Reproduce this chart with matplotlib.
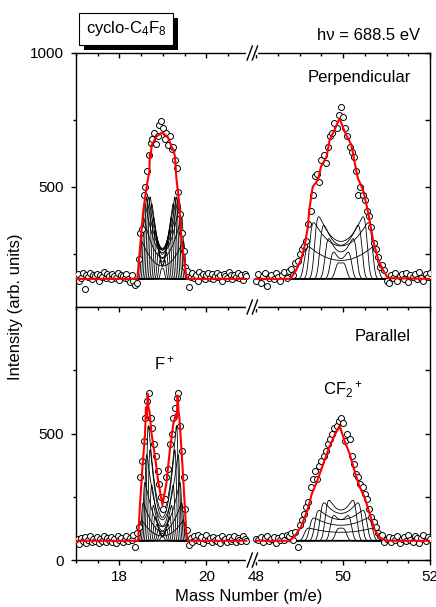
import numpy as np
import matplotlib.pyplot as plt
from matplotlib.lines import Line2D
from matplotlib.patches import Rectangle
from matplotlib.transforms import blended_transform_factory, IdentityTransform

plt.rcParams['font.family'] = ['Liberation Sans', 'DejaVu Sans']
plt.rcParams['mathtext.fontset'] = 'custom'
plt.rcParams['mathtext.rm'] = 'Liberation Sans'
plt.rcParams['mathtext.it'] = 'Liberation Sans:italic'
plt.rcParams['mathtext.bf'] = 'Liberation Sans:bold'

# channels of the two halves of the broken mass axis
mass_f = np.round(np.linspace(17.0, 20.92, 99), 2)
mass_cf2 = np.round(np.linspace(48.0, 52.0, 81), 2)

# measured counts (open circles)
perp_f_counts = [168, 175, 150, 162, 178, 120, 171, 165, 180, 158, 172, 166, 176, 149, 170, 163, 182, 160,
                 174, 167, 155, 176, 169, 161, 178, 152, 172, 166, 160, 175, 158, 147, 170, 150, 135, 140,
                 230, 330, 345, 470, 500, 560, 620, 665, 680, 700, 660, 690, 730, 745, 720, 680, 700, 655,
                 690, 640, 650, 600, 570, 480, 400, 330, 260, 200, 185, 128,
                 165, 178, 160, 172, 150, 183, 168, 175, 158, 170, 180, 162, 174, 155, 169, 178, 163, 172,
                 150, 177, 166, 160, 181, 170, 156, 173, 165, 179, 161, 170, 152, 176, 168]
perp_cf2_counts = [150, 175, 140, 168, 180, 130, 162, 172, 155, 178, 165, 148, 170, 182, 160,
                   185, 195, 170, 215, 225, 250, 270, 280, 300, 360, 410, 470, 540, 550, 520, 600, 620,
                   590, 650, 690, 700, 740, 720, 770, 800, 760, 720, 690, 650, 630, 610, 560, 470, 500,
                   470, 450, 410, 390, 350, 290, 270, 240, 200, 210, 190, 150,
                   140, 172, 160, 178, 150, 168, 175, 158, 180, 145, 170, 163, 176, 155, 182, 160, 148,
                   174, 165, 178]
par_f_counts = [70, 82, 65, 88, 74, 92, 68, 80, 95, 72, 85, 77, 90, 66, 83, 75, 94, 70, 86, 79, 91, 73,
                84, 68, 96, 78, 88, 71, 82, 93, 76, 87, 80, 98, 50, 105,
                130, 330, 390, 470, 560, 630, 660, 560, 520, 460, 410, 350, 300, 250, 200, 240, 330, 360,
                460, 500, 560, 600, 640, 660, 530, 430, 330, 200, 120, 60,
                88, 72, 95, 80, 100, 74, 90, 66, 84, 97, 78, 86, 70, 92, 81, 75, 89, 68, 94, 79, 85, 72,
                91, 77, 83, 96, 70, 87, 80, 74, 93, 82, 76]
par_cf2_counts = [85, 78, 92, 70, 88, 96, 74, 82, 90, 68, 86, 79, 94, 80, 100,
                  95, 105, 80, 110, 50, 140, 160, 180, 210, 230, 290, 320, 350, 320, 370, 390, 410, 430,
                  460, 480, 500, 520, 530, 550, 560, 540, 470, 500, 480, 410, 380, 340, 330, 300, 290,
                  260, 240, 200, 170, 150, 130, 105, 95, 100, 70, 85,
                  92, 70, 88, 79, 95, 66, 84, 90, 74, 98, 80, 72, 93, 86, 68, 88, 100, 77, 90, 82]

# fitted sums (red)
perp_f_fit_m = [17.00, 18.41, 18.47, 18.55, 18.64, 18.69, 18.70, 18.72, 18.74, 18.85, 18.97, 19.04,
                19.12, 19.20, 19.24, 19.28, 19.31, 19.37, 19.43, 19.53, 19.56, 20.92]
perp_f_fit_v = [157, 157, 265, 414, 515, 557, 627, 610, 655, 688, 702, 696, 685, 650, 640, 613, 534,
                451, 302, 179, 157, 157]
perp_cf2_fit_m = [48.00, 48.76, 48.80, 48.92, 49.03, 49.11, 49.19, 49.22, 49.30, 49.42, 49.49, 49.62,
                  49.69, 49.80, 49.92, 49.99, 50.07, 50.19, 50.27, 50.34, 50.46, 50.58, 50.69, 50.81,
                  50.92, 51.03, 52.00]
perp_cf2_fit_v = [157, 157, 160, 190, 228, 277, 352, 414, 501, 526, 576, 613, 675, 713, 756, 725, 694,
                  657, 588, 532, 489, 402, 302, 228, 190, 160, 157]
par_f_fit_m = [17.00, 18.43, 18.47, 18.53, 18.59, 18.61, 18.63, 18.65, 18.67, 18.69, 18.74, 18.82,
               18.89, 18.99, 19.08, 19.16, 19.24, 19.30, 19.32, 19.34, 19.36, 19.38, 19.43, 19.48,
               19.54, 19.58, 20.92]
par_f_fit_v = [76, 76, 210, 367, 499, 604, 560, 656, 600, 591, 499, 407, 315, 217, 302, 433, 538, 577,
               560, 650, 590, 564, 433, 289, 105, 76, 76]
par_cf2_fit_m = [48.00, 48.76, 48.88, 49.03, 49.18, 49.28, 49.38, 49.49, 49.60, 49.68, 49.80, 49.92,
                 50.03, 50.15, 50.26, 50.38, 50.49, 50.61, 50.73, 50.84, 51.00, 52.00]
par_cf2_fit_v = [76, 76, 92, 131, 197, 262, 302, 354, 407, 446, 492, 531, 472, 420, 354, 289, 249, 184,
                 118, 89, 76, 76]

# fit components: half width (m/e) and height of each U-shaped component
f_widths = [0.04, 0.08, 0.12, 0.16, 0.20, 0.24, 0.28, 0.32, 0.36, 0.40, 0.44, 0.48, 0.52]
perp_f_heights = [40, 70, 100, 140, 180, 230, 280, 306, 306, 300, 280, 230, 140]
par_f_heights = [15, 30, 45, 65, 95, 140, 220, 360, 455, 340, 230, 150, 80]
cf2_widths = [0.12, 0.24, 0.36, 0.48, 0.60, 0.72, 0.84]
perp_cf2_heights = [60, 100, 150, 200, 232, 210, 120]
par_cf2_heights = [50, 100, 160, 150, 120, 90, 50]
f_center, cf2_center = 18.99, 49.95
perp_base, par_base = 157, 76

tick_masses = [18, 20, 48, 50, 52]
minor_masses = [17, 17.5, 18.5, 19, 19.5, 20.5, 48.5, 49, 49.5, 50.5, 51, 51.5]

SHIFT = 48.0 - 21.15  # right half of the broken axis is moved next to the left half


def mx(m):
    m = np.asarray(m, dtype=float)
    return np.where(m > 40, m - SHIFT, m)


def component(x, center, half, height, sig, floor):
    t = np.linspace(-half, half, 121)
    shape = floor + (1 - floor) * (t / half) ** 2
    prof = np.exp(-(x[:, None] - center - t[None, :]) ** 2 / (2 * sig ** 2)) @ shape
    return height * prof / prof.max()


def draw_segment(ax, m, counts, fit_m, fit_v, widths, heights, center, sig, floor, base):
    fine = np.linspace(m[0], m[-1], 1600)
    for w, h in zip(widths, heights):
        ax.plot(mx(fine), base + component(fine, center, w, h, sig, floor), color='black', lw=0.6, zorder=2)
    ax.plot(mx(fine), np.full_like(fine, base), color='black', lw=1.3, zorder=2)
    ax.plot(mx(m), counts, 'o', ms=4.3, mfc='white', mec='black', mew=0.7, zorder=3)
    ax.plot(mx(fit_m), fit_v, color='red', lw=1.5, zorder=4)


fig = plt.figure(figsize=(4.36, 6.07), dpi=100)
ax_top = fig.add_axes([0.1743, 0.4942, 0.8119, 0.4185])
ax_bot = fig.add_axes([0.1743, 0.0774, 0.8119, 0.4168])

draw_segment(ax_top, mass_f, perp_f_counts, perp_f_fit_m, perp_f_fit_v, f_widths, perp_f_heights,
             f_center, 0.022, 0.3, perp_base)
draw_segment(ax_top, mass_cf2, perp_cf2_counts, perp_cf2_fit_m, perp_cf2_fit_v, cf2_widths,
             perp_cf2_heights, cf2_center, 0.05, 0.5, perp_base)
draw_segment(ax_bot, mass_f, par_f_counts, par_f_fit_m, par_f_fit_v, f_widths, par_f_heights,
             f_center, 0.022, 0.2, par_base)
draw_segment(ax_bot, mass_cf2, par_cf2_counts, par_cf2_fit_m, par_cf2_fit_v, cf2_widths,
             par_cf2_heights, cf2_center, 0.05, 0.6, par_base)

ax_top.set_ylim(52, 1000)
ax_bot.set_ylim(0, 1000)
ax_top.set_yticks([500, 1000])
ax_bot.set_yticks([0, 500])
for ax in (ax_top, ax_bot):
    ax.set_xlim(17, mx(52))
    ax.set_yticks([250, 750], minor=True)
    ax.set_xticks(mx(tick_masses))
    ax.set_xticks(mx(minor_masses), minor=True)
    ax.set_xticklabels([str(t) for t in tick_masses])
    for s in ax.spines.values():
        s.set_linewidth(1.0)
    ax.tick_params(axis='y', which='both', direction='out', left=True, right=False, labelsize=11, pad=5)
    ax.tick_params(which='major', length=3.8, width=1.0)
    ax.tick_params(which='minor', length=2.5, width=1.0)
    sec = ax.secondary_yaxis('right')
    sec.set_ticks(ax.get_yticks())
    sec.set_ticks([250, 750], minor=True)
    sec.tick_params(axis='y', which='both', direction='in', labelright=False, width=1.0)
    sec.tick_params(which='major', length=3.8)
    sec.tick_params(which='minor', length=3.8)
    for s in sec.spines.values():
        s.set_visible(False)

ax_top.tick_params(axis='x', which='both', direction='in', bottom=False, top=True,
                   labelbottom=False, labeltop=False)
ax_bot.tick_params(axis='x', which='both', direction='out', labelsize=11)
sec_x = ax_bot.secondary_xaxis('top')
sec_x.set_ticks(mx(tick_masses))
sec_x.set_ticks(mx(minor_masses), minor=True)
sec_x.tick_params(axis='x', which='both', direction='in', labeltop=False, width=1.0)
sec_x.tick_params(which='major', length=3.8)
sec_x.tick_params(which='minor', length=2.5)
for s in sec_x.spines.values():
    s.set_visible(False)


def break_mark(ax, yfrac, slashes=True):
    tr = blended_transform_factory(ax.transData, ax.transAxes)
    fig.add_artist(Line2D([20.97, 21.15], [yfrac, yfrac], transform=tr, color='white', lw=3, zorder=5))
    if slashes:
        dy = 7 / ax.bbox.height
        for xc in (21.0, 21.12):
            fig.add_artist(Line2D([xc - 0.06, xc + 0.06], [yfrac - dy, yfrac + dy], transform=tr,
                                  color='black', lw=1.0, zorder=6))


break_mark(ax_top, 1)
break_mark(ax_top, 0, slashes=False)
break_mark(ax_bot, 1)
break_mark(ax_bot, 0)

ax_top.text(0.946, 0.902, 'Perpendicular', transform=ax_top.transAxes, ha='right', va='center', fontsize=12)
ax_bot.text(0.946, 0.885, 'Parallel', transform=ax_bot.transAxes, ha='right', va='center', fontsize=12)
ax_bot.text(mx(19.03), 776, 'F$^+$', ha='center', va='center', fontsize=12)
ax_bot.text(mx(49.99), 673, 'CF$_2{}^+$', ha='center', va='center', fontsize=12)

fig.text(420 / 436, 1 - 36 / 607, 'h\u03bd = 688.5 eV', ha='right', va='center', fontsize=12)
fig.text(0.035, 0.494, 'Intensity (arb. units)', rotation=90, ha='center', va='center', fontsize=12)
fig.text(249 / 436, 0.017, 'Mass Number (m/e)', ha='center', va='center', fontsize=12)

label = fig.text(126 / 436, 1 - 29 / 607, 'cyclo-C$_4$F$_8$', ha='center', va='center', fontsize=12,
                 bbox=dict(boxstyle='square,pad=0.4', fc='white', ec='black', lw=0.8), zorder=10)
fig.canvas.draw()
bb = label.get_bbox_patch().get_window_extent()
fig.add_artist(Rectangle((bb.x0 + 5, bb.y0 - 5), bb.width, bb.height, transform=IdentityTransform(),
                         fc='black', ec='none', zorder=9))

fig.savefig('out.png', dpi=100)
plt.close(fig)
